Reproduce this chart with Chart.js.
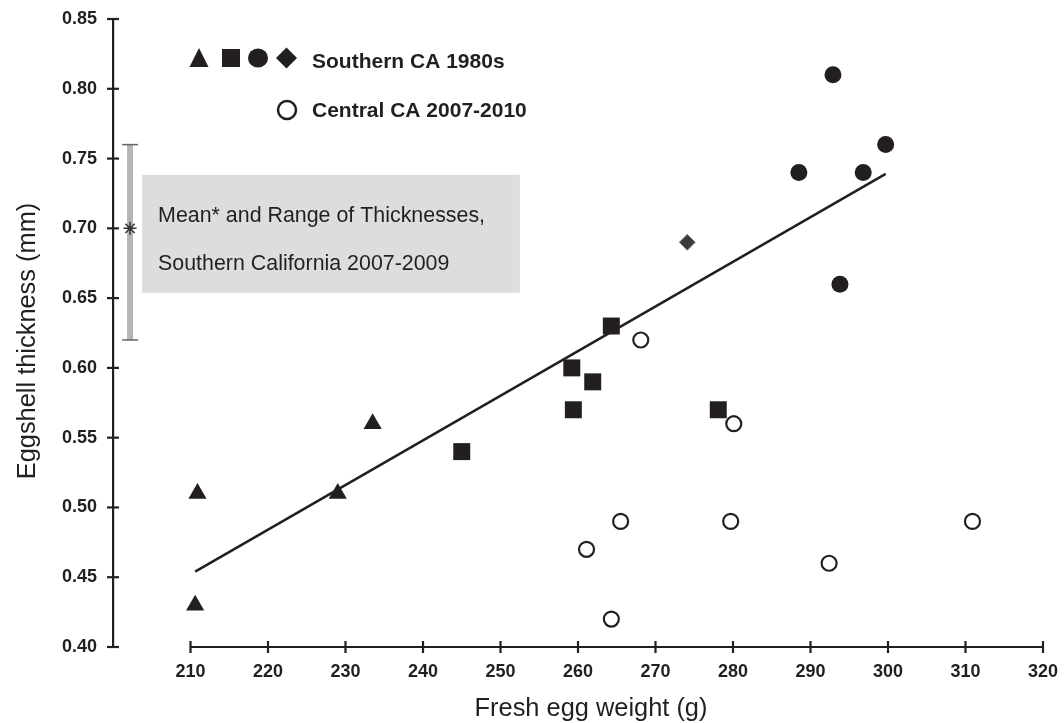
<!DOCTYPE html>
<html>
<head>
<meta charset="utf-8">
<script src="https://cdn.jsdelivr.net/npm/chart.js@4.4.1/dist/chart.umd.min.js"></script>
<style>
  html, body { margin: 0; padding: 0; background: #ffffff; }
  #wrap { width: 1064px; height: 723px; position: relative; }
</style>
</head>
<body>
<div id="wrap"><canvas id="c"></canvas></div>
<script>
// ---------- DATA ----------
const xTicks = [210, 220, 230, 240, 250, 260, 270, 280, 290, 300, 310, 320];
const yTicks = [0.40, 0.45, 0.50, 0.55, 0.60, 0.65, 0.70, 0.75, 0.80, 0.85];

const triX = [210.6, 210.9, 229.0, 233.5];
const triY = [0.43, 0.51, 0.51, 0.56];

const sqX = [245.0, 259.2, 259.4, 261.9, 264.3, 278.1];
const sqY = [0.54, 0.60, 0.57, 0.59, 0.63, 0.57];

const dotX = [288.5, 296.8, 299.7, 292.9, 293.8];
const dotY = [0.74, 0.74, 0.76, 0.81, 0.66];

const diaX = [274.1];
const diaY = [0.69];

const openX = [268.1, 280.1, 265.5, 279.7, 310.9, 261.1, 292.4, 264.3];
const openY = [0.62, 0.56, 0.49, 0.49, 0.49, 0.47, 0.46, 0.42];

const fitX = [210.6, 299.7];
const fitY = [0.454, 0.739];

// Southern California 2007-2009: range and mean
const rangeX = [202.2, 202.2];
const rangeY = [0.62, 0.76];
const meanX = [202.2];
const meanY = [0.70];

const boxText = ['Mean* and Range of Thicknesses,', 'Southern California 2007-2009'];
const legendLabels = ['Southern CA 1980s', 'Central CA 2007-2010'];
const xTitle = 'Fresh egg weight (g)';
const yTitle = 'Eggshell thickness (mm)';

// ---------- HELPERS ----------
const pts = (xs, ys) => xs.map((v, i) => ({ x: v, y: ys[i] }));
const INK = '#231f20';
const FONT = '"Liberation Sans", Arial, Helvetica, sans-serif';

const decor = {
  id: 'decor',
  beforeDatasetsDraw(chart) {
    const { ctx, scales: { x, y } } = chart;
    // grey annotation box (anchored to axis values)
    const bx0 = x.getPixelForValue(203.75), bx1 = x.getPixelForValue(252.5);
    const by0 = y.getPixelForValue(0.7383), by1 = y.getPixelForValue(0.6538);
    ctx.save();
    ctx.fillStyle = '#dcdddf';
    ctx.fillRect(bx0, by0, bx1 - bx0, by1 - by0);
    ctx.fillStyle = INK;
    ctx.font = '21.4px ' + FONT;
    ctx.textBaseline = 'alphabetic';
    ctx.textAlign = 'left';
    ctx.fillText(boxText[0], bx0 + 16, by0 + 47);
    ctx.fillText(boxText[1], bx0 + 16, by0 + 95);
    ctx.restore();
  },
  afterDraw(chart) {
    const { ctx, chartArea: ca, scales: { x, y } } = chart;
    ctx.save();
    ctx.strokeStyle = INK;
    ctx.lineWidth = 2.2;
    // x axis line from first to last tick
    const axY = y.getPixelForValue(0.40);
    const xs = x.getPixelForValue(xTicks[0]);
    const xe = x.getPixelForValue(xTicks[xTicks.length - 1]);
    ctx.beginPath();
    ctx.moveTo(xs, axY); ctx.lineTo(xe, axY);
    ctx.stroke();
    // x tick marks (crossing)
    x.ticks.forEach(t => {
      const px = x.getPixelForValue(t.value);
      ctx.beginPath(); ctx.moveTo(px, axY - 6); ctx.lineTo(px, axY + 6); ctx.stroke();
    });
    // y tick marks (crossing)
    const axX = ca.left;
    y.ticks.forEach(t => {
      const py = y.getPixelForValue(t.value);
      ctx.beginPath(); ctx.moveTo(axX - 6, py); ctx.lineTo(axX + 6, py); ctx.stroke();
    });
    // axis titles
    ctx.fillStyle = INK;
    ctx.font = '25.4px ' + FONT;
    ctx.textAlign = 'center';
    ctx.textBaseline = 'middle';
    ctx.fillText(xTitle, (ca.left + ca.right) / 2 + 13, 709);
    ctx.save();
    ctx.translate(28, (ca.top + ca.bottom) / 2 + 8);
    ctx.rotate(-Math.PI / 2);
    ctx.fillText(yTitle, 0, 0);
    ctx.restore();

    // legend
    ctx.fillStyle = INK;
    const r1 = 58, r2 = 110;
    // triangle
    ctx.beginPath();
    ctx.moveTo(199, r1 - 10); ctx.lineTo(208.5, r1 + 9); ctx.lineTo(189.5, r1 + 9); ctx.closePath(); ctx.fill();
    // square
    ctx.fillRect(222, r1 - 9, 18, 18);
    // circle
    ctx.beginPath(); ctx.ellipse(258, r1, 10, 9.5, 0, 0, Math.PI * 2); ctx.fill();
    // diamond
    ctx.beginPath();
    ctx.moveTo(286.5, r1 - 10.5); ctx.lineTo(297, r1); ctx.lineTo(286.5, r1 + 10.5); ctx.lineTo(276, r1); ctx.closePath(); ctx.fill();
    // open circle
    ctx.beginPath(); ctx.arc(287, r2, 9, 0, Math.PI * 2);
    ctx.fillStyle = '#fff'; ctx.fill();
    ctx.lineWidth = 2.5; ctx.strokeStyle = INK; ctx.stroke();
    ctx.fillStyle = INK;
    ctx.font = 'bold 21px ' + FONT;
    ctx.textAlign = 'left';
    ctx.textBaseline = 'alphabetic';
    ctx.fillText(legendLabels[0], 312, r1 + 10);
    ctx.fillText(legendLabels[1], 312, r2 + 7);
    ctx.restore();
  }
};

const ctx = document.getElementById('c');
new Chart(ctx, {
  type: 'scatter',
  data: {
    datasets: [
      { label: 'tri', data: pts(triX, triY), pointStyle: 'triangle', pointRadius: 10.5,
        backgroundColor: INK, borderColor: INK, borderWidth: 0, order: 0 },
      { label: 'sq', data: pts(sqX, sqY), pointStyle: 'rect', pointRadius: 12,
        backgroundColor: INK, borderColor: INK, borderWidth: 0, order: 0 },
      { label: 'dot', data: pts(dotX, dotY), pointStyle: 'circle', pointRadius: 8.5,
        backgroundColor: INK, borderColor: INK, borderWidth: 0, order: 0 },
      { label: 'dia', data: pts(diaX, diaY), pointStyle: 'rectRot', pointRadius: 8,
        backgroundColor: '#3a3a3a', borderColor: '#8a8a8a', borderWidth: 1, order: 0 },
      { label: 'open', data: pts(openX, openY), pointStyle: 'circle', pointRadius: 7.5,
        backgroundColor: '#ffffff', borderColor: INK, borderWidth: 2.2, order: 0 },
      { label: 'mean', data: pts(meanX, meanY), pointStyle: 'star', pointRadius: 6.5,
        backgroundColor: '#333', borderColor: '#333', borderWidth: 1.5, order: 0 },
      { label: 'fit', data: pts(fitX, fitY), showLine: true, pointRadius: 0,
        borderColor: INK, borderWidth: 2.5, order: 1 },
      { label: 'range', data: pts(rangeX, rangeY), showLine: true,
        borderColor: '#b5b5b5', borderWidth: 6, borderCapStyle: 'butt',
        pointStyle: 'line', pointRadius: 8, pointBorderColor: '#666', pointBorderWidth: 1.5,
        order: 2 }
    ]
  },
  options: {
    responsive: true,
    maintainAspectRatio: false,
    animation: false,
    events: [],
    layout: { padding: { top: 19, right: 21, left: 0, bottom: 0 } },
    plugins: { legend: { display: false }, tooltip: { enabled: false } },
    scales: {
      x: {
        type: 'linear', min: 200, max: 320,
        afterBuildTicks: s => { s.ticks = xTicks.map(v => ({ value: v })); },
        afterFit: s => { s.height = 76; s.paddingLeft = 0; s.paddingRight = 0; },
        grid: { display: false, drawTicks: false },
        border: { display: false },
        ticks: { padding: 14, color: INK, font: { family: FONT, size: 18, weight: 'bold' },
                 maxRotation: 0, autoSkip: false },
        title: { display: false }
      },
      y: {
        type: 'linear', min: 0.40, max: 0.85,
        afterBuildTicks: s => { s.ticks = yTicks.map(v => ({ value: v })); },
        afterFit: s => { s.width = 113; s.paddingTop = 0; s.paddingBottom = 0; },
        grid: { display: false, drawTicks: false },
        border: { display: true, color: INK, width: 2.2 },
        ticks: { padding: 16, color: INK, font: { family: FONT, size: 18, weight: 'bold' },
                 callback: v => Number(v).toFixed(2) },
        title: { display: false }
      }
    }
  },
  plugins: [decor]
});
</script>
</body>
</html>
